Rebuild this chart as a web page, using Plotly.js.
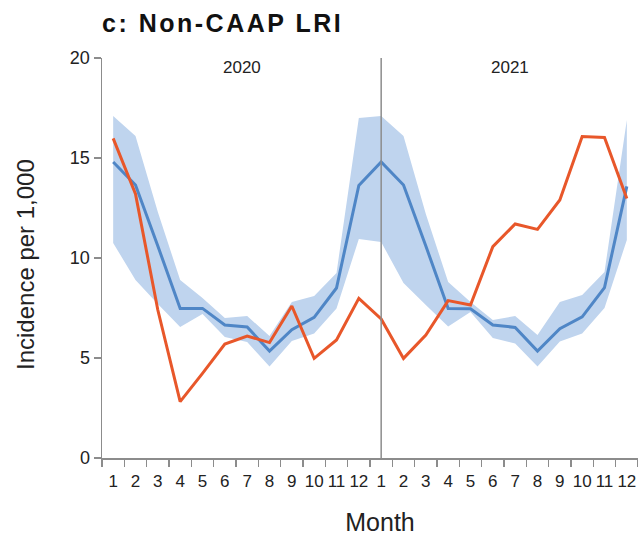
<!DOCTYPE html>
<html>
<head>
<meta charset="utf-8">
<script src="https://cdn.plot.ly/plotly-3.0.1.min.js"></script>
<style>html,body{margin:0;padding:0;background:#fff;}#chart{width:638px;height:542px;}</style>
</head>
<body>
<div id="chart"></div>
<script>
// Month index 1..24 (2020 Jan .. 2021 Dec)
var monthIndex = [1,2,3,4,5,6,7,8,9,10,11,12,13,14,15,16,17,18,19,20,21,22,23,24];
var monthLabels = ["1","2","3","4","5","6","7","8","9","10","11","12","1","2","3","4","5","6","7","8","9","10","11","12"];
var yearLabels = ["2020","2021"];

// Expected (blue) incidence and its band
var expectedMean = [14.8, 13.65, 10.6, 7.48, 7.48, 6.65, 6.55, 5.35, 6.42, 7.03, 8.5, 13.63,
                    14.8, 13.65, 10.6, 7.48, 7.46, 6.65, 6.53, 5.35, 6.46, 7.06, 8.52, 13.58];
var expectedUpper = [17.1, 16.1, 12.3, 8.9, 8.0, 7.0, 7.1, 6.1, 7.8, 8.1, 9.25, 17.0,
                     17.1, 16.1, 12.2, 8.8, 7.8, 6.9, 7.1, 6.15, 7.8, 8.15, 9.3, 16.9];
var expectedLower = [10.75, 8.9, 7.7, 6.55, 7.2, 6.05, 5.8, 4.57, 5.85, 6.23, 7.48, 10.95,
                     10.8, 8.75, 7.65, 6.57, 7.3, 6.0, 5.73, 4.57, 5.82, 6.23, 7.5, 10.9];

// Observed (orange) incidence
var observed = [15.98, 13.2, 7.4, 2.82, 4.23, 5.7, 6.1, 5.77, 7.6, 4.98, 5.9, 7.98,
                6.95, 4.98, 6.15, 7.87, 7.65, 10.57, 11.7, 11.43, 12.9, 16.07, 16.03, 12.98];

var yTicks = [0, 5, 10, 15, 20];

var boundaries = [];
for (var i = 0; i <= monthIndex.length; i++) boundaries.push(i + 0.5);

var font = "Liberation Sans, Arial, Helvetica, sans-serif";
var axisColor = "#8c8c8c";

var traces = [
  {x: monthIndex, y: expectedLower, type: "scatter", mode: "lines",
   line: {width: 0, color: "rgba(0,0,0,0)"}, hoverinfo: "skip", showlegend: false},
  {x: monthIndex, y: expectedUpper, type: "scatter", mode: "lines", fill: "tonexty",
   fillcolor: "#bfd4ee", line: {width: 0, color: "rgba(0,0,0,0)"}, hoverinfo: "skip", showlegend: false},
  {x: monthIndex, y: expectedMean, type: "scatter", mode: "lines",
   line: {width: 3, color: "#4f86c6"}, showlegend: false},
  {x: monthIndex, y: observed, type: "scatter", mode: "lines",
   line: {width: 3, color: "#e8572a"}, showlegend: false}
];

var layout = {
  width: 638, height: 542,
  margin: {l: 102, r: 0, t: 58, b: 84},
  paper_bgcolor: "#ffffff", plot_bgcolor: "#ffffff",
  font: {family: font, color: "#222"},
  showlegend: false,
  title: {text: "<b>c: Non-CAAP LRI</b>", font: {size: 25, family: font, color: "#111"},
          xref: "paper", x: 0, xanchor: "left", yref: "container", y: 1 - 23/542, yanchor: "middle"},
  xaxis: {
    range: [0.5, 24.5], tickmode: "array", tickvals: monthIndex, ticktext: monthLabels,
    ticks: "outside", ticklen: 7, tickcolor: "rgba(0,0,0,0)",
    showline: true, linecolor: axisColor, linewidth: 1.5,
    showgrid: false, zeroline: false, tickfont: {size: 17, family: font, color: "#222"},
    minor: {tickmode: "array", tickvals: boundaries, ticks: "outside", ticklen: 7, tickcolor: axisColor, tickwidth: 1.5, showgrid: false},
    title: {text: "Month", standoff: 23, font: {size: 25, family: font, color: "#222"}},
    automargin: false
  },
  yaxis: {
    range: [0, 20], tickmode: "array", tickvals: yTicks, ticks: "outside", ticklen: 7,
    tickcolor: axisColor, tickwidth: 1.5, showline: true, linecolor: axisColor, linewidth: 1.5,
    showgrid: false, zeroline: false, tickfont: {size: 18, family: font, color: "#222"}
  },
  shapes: [
    {type: "line", xref: "x", yref: "paper", x0: 13, x1: 13, y0: 0, y1: 1,
     line: {color: axisColor, width: 1.5}, layer: "above"}
  ],
  annotations: [
    {text: yearLabels[0], xref: "x", yref: "y", x: 6.75, y: 19.55, showarrow: false,
     font: {size: 17, family: font, color: "#222"}, xanchor: "center", yanchor: "middle"},
    {text: yearLabels[1], xref: "x", yref: "y", x: 18.75, y: 19.55, showarrow: false,
     font: {size: 17, family: font, color: "#222"}, xanchor: "center", yanchor: "middle"},
    {text: "Incidence per 1,000", xref: "paper", yref: "paper", x: (25 - 102) / 536, y: (458 - 265) / 400,
     textangle: -90, showarrow: false, font: {size: 24, family: font, color: "#222"},
     xanchor: "center", yanchor: "middle"}
  ]
};

Plotly.newPlot("chart", traces, layout, {displayModeBar: false, staticPlot: true}).then(function (gd) {
  var t = gd.querySelector(".gtitle");
  if (t) t.style.letterSpacing = "2.5px";
  var xt = gd.querySelector(".xtitle");
  if (xt) {
    var tr = xt.getAttribute("transform") || "";
    xt.setAttribute("transform", "translate(10,0) " + tr);
  }
});
</script>
</body>
</html>
